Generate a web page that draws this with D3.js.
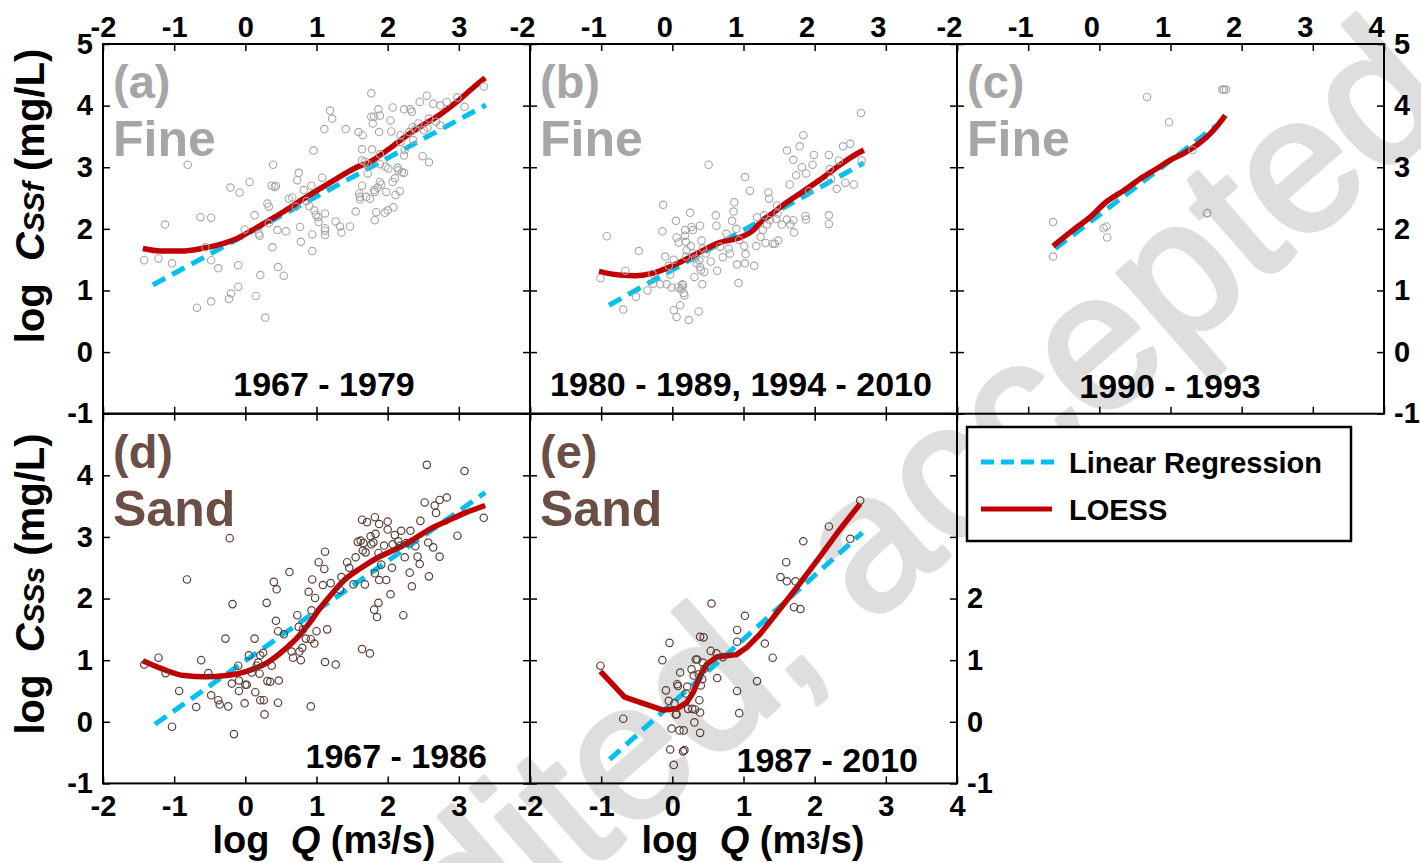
<!DOCTYPE html>
<html>
<head>
<meta charset="utf-8">
<script src="https://cdn.jsdelivr.net/npm/d3@7"></script>
<style>
  body { margin: 0; background: #fff; }
  text { font-family: "Liberation Sans", Arial, Helvetica, sans-serif; font-weight: bold; }
</style>
</head>
<body>
<svg id="chart" width="1421" height="863"></svg>
<script>
// ---- data (log Q, log C) ----
var xTicks = [-2, -1, 0, 1, 2, 3, 4];
var yTicks = [-1, 0, 1, 2, 3, 4, 5];

// (a) fine 1967-1979
var ptsA = [[-1.42,1.49],[-1.22,1.52],[-1.13,2.07],[-1.03,1.44],[-0.81,3.04],[-0.68,0.72],[-0.63,2.19],[-0.48,2.18],[-0.56,1.70],[-0.48,1.49],
  [-0.48,0.82],[-0.38,1.36],[-0.23,0.86],[-0.20,0.95],[-0.21,2.67],[-0.08,2.59],[-0.10,1.41],[-0.10,1.06],[-0.01,1.99],[0.06,2.76],
  [0.13,2.22],[0.15,0.91],[0.19,1.92],[0.20,1.89],[0.21,1.25],[0.28,0.56],[0.31,2.41],[0.33,2.36],[0.33,2.09],[0.38,1.70],
  [0.39,3.04],[0.37,2.70],[0.41,2.68],[0.43,2.70],[0.45,1.98],[0.46,1.38],[0.54,1.24],[0.57,1.96],[0.61,2.49],[0.66,2.51],
  [0.71,2.36],[0.73,2.79],[0.75,2.91],[0.77,2.03],[0.78,1.79],[0.82,2.63],[0.86,2.45],[0.90,2.37],[0.93,2.70],[0.94,1.91],
  [0.94,1.64],[0.96,3.27],[0.97,2.30],[0.99,2.23],[1.02,2.19],[1.03,2.11],[1.08,2.83],[1.11,3.62],[1.12,2.25],[1.12,2.01],
  [1.12,1.97],[1.12,1.90],[1.19,3.92],[1.22,3.79],[1.27,2.12],[1.33,2.04],[1.35,1.94],[1.41,3.62],[1.47,2.04],[1.55,2.28],
  [1.59,3.57],[1.60,2.57],[1.61,2.48],[1.61,2.52],[1.65,3.52],[1.64,3.29],[1.64,3.11],[1.64,2.70],[1.68,3.09],[1.70,2.52],
  [1.72,3.05],[1.72,2.90],[1.75,2.49],[1.77,4.20],[1.77,3.82],[1.78,3.29],[1.79,3.71],[1.81,3.82],[1.81,2.63],[1.82,2.14],
  [1.82,2.60],[1.84,2.27],[1.86,2.67],[1.87,3.94],[1.88,3.57],[1.89,3.84],[1.89,3.21],[1.89,2.76],[1.89,3.05],[1.91,2.72],
  [1.96,2.26],[1.97,3.01],[1.98,2.60],[2.00,2.30],[2.01,2.98],[2.04,3.76],[2.05,3.58],[2.07,3.97],[2.07,2.76],[2.08,2.35],
  [2.10,2.82],[2.11,2.55],[2.14,2.99],[2.15,2.95],[2.17,2.61],[2.18,3.52],[2.18,3.41],[2.20,2.92],[2.23,2.91],[2.23,3.94],
  [2.23,3.19],[2.24,3.28],[2.30,3.57],[2.32,3.94],[2.34,3.90],[2.35,3.65],[2.36,3.44],[2.39,3.62],[2.43,3.71],[2.45,4.06],
  [2.49,3.18],[2.51,3.60],[2.55,4.16],[2.56,3.64],[2.58,3.79],[2.58,3.08],[2.64,4.03],[2.68,3.74],[2.74,4.00],[2.74,3.68],
  [2.83,4.06],[2.98,4.13],[3.08,3.98],[3.35,4.31]];
var lrA = [[-1.30,1.09],[3.38,4.01]];
var loA = [[-1.44,1.68],[-1.19,1.64],[-0.90,1.64],[-0.62,1.68],[-0.38,1.74],[-0.14,1.83],[0.10,1.98],[0.34,2.14],[0.58,2.31],[0.82,2.49],
  [1.06,2.66],[1.29,2.82],[1.53,2.98],[1.77,3.10],[2.01,3.29],[2.25,3.50],[2.49,3.68],[2.73,3.85],[2.97,4.06],[3.20,4.29],[3.37,4.45]];

// (b) fine 1980-1989, 1994-2010
var ptsB = [[-1.01,1.20],[-0.92,1.88],[-0.69,0.69],[-0.66,1.32],[-0.51,0.90],[-0.47,1.64],[-0.35,1.00],[-0.28,1.27],[-0.27,1.11],[-0.17,1.10],
  [-0.14,1.96],[-0.13,2.39],[-0.10,1.55],[-0.08,1.10],[-0.05,1.40],[-0.03,1.26],[-0.01,1.05],[0.02,1.50],[0.02,0.68],[0.05,2.13],
  [0.06,1.86],[0.06,0.57],[0.08,1.05],[0.09,1.78],[0.11,0.76],[0.12,1.02],[0.14,1.10],[0.14,1.05],[0.15,1.09],[0.16,0.96],
  [0.17,0.92],[0.18,1.98],[0.18,1.89],[0.19,1.79],[0.19,1.55],[0.20,1.65],[0.23,0.52],[0.25,2.26],[0.26,1.72],[0.27,2.03],
  [0.29,1.60],[0.29,1.98],[0.31,1.22],[0.32,1.52],[0.34,1.44],[0.37,0.66],[0.38,1.49],[0.39,2.05],[0.39,1.38],[0.40,1.33],
  [0.41,1.81],[0.42,1.10],[0.43,1.68],[0.45,1.30],[0.47,1.60],[0.51,3.04],[0.54,1.47],[0.61,2.22],[0.62,2.05],[0.63,1.32],
  [0.67,1.71],[0.71,1.54],[0.76,1.92],[0.79,1.68],[0.81,1.60],[0.84,2.13],[0.86,2.28],[0.87,2.43],[0.90,2.00],[0.91,1.42],
  [0.93,1.12],[0.94,1.82],[1.01,1.72],[1.02,2.84],[1.02,1.44],[1.03,1.59],[1.09,2.62],[1.15,1.40],[1.18,1.72],[1.19,2.19],
  [1.24,1.87],[1.27,1.98],[1.29,2.22],[1.31,1.77],[1.33,2.07],[1.35,2.59],[1.36,2.49],[1.37,2.14],[1.41,1.76],[1.44,1.76],
  [1.46,2.16],[1.47,2.38],[1.48,2.25],[1.49,1.81],[1.54,2.07],[1.61,3.27],[1.61,2.15],[1.65,2.72],[1.66,2.07],[1.70,2.14],
  [1.70,3.12],[1.71,1.94],[1.74,2.87],[1.79,3.34],[1.82,3.00],[1.84,3.52],[1.87,2.21],[1.88,2.15],[1.88,2.90],[1.92,2.61],
  [1.97,3.04],[1.99,3.20],[2.20,3.20],[2.20,2.22],[2.20,2.08],[2.21,2.97],[2.23,2.81],[2.31,2.65],[2.34,3.11],[2.40,3.34],
  [2.43,2.75],[2.50,3.38],[2.55,2.72],[2.65,3.88],[2.66,3.11]];
var lrB = [[-0.89,0.76],[2.69,3.07]];
var loB = [[-1.03,1.31],[-0.74,1.25],[-0.51,1.24],[-0.27,1.28],[-0.04,1.38],[0.20,1.51],[0.43,1.65],[0.67,1.78],[0.90,1.84],[1.14,1.98],
  [1.25,2.12],[1.37,2.22],[1.61,2.43],[1.84,2.61],[2.08,2.80],[2.31,3.00],[2.55,3.19],[2.69,3.28]];

// (c) fine 1990-1993
var ptsC = [[-0.65,2.11],[-0.65,1.55],[0.06,2.01],[0.10,2.04],[0.11,1.86],[0.67,4.14],[0.98,3.73],[1.31,3.28],[1.51,2.25],[1.52,2.26],
  [1.73,4.26],[1.75,4.26],[1.78,4.26]];
var lrC = [[-0.62,1.68],[1.65,3.68]];
var loC = [[-0.65,1.72],[-0.37,1.98],[-0.13,2.19],[0.10,2.44],[0.34,2.62],[0.57,2.81],[0.81,2.98],[1.00,3.12],[1.18,3.22],[1.37,3.36],
  [1.51,3.49],[1.65,3.66],[1.77,3.84]];

// (d) sand 1967-1986
var ptsD = [[-1.42,0.93],[-1.22,1.04],[-1.12,0.79],[-1.03,-0.08],[-0.93,0.50],[-0.82,2.31],[-0.69,0.24],[-0.62,1.00],[-0.52,0.79],[-0.48,0.43],
  [-0.38,0.35],[-0.36,0.28],[-0.28,1.35],[-0.24,0.25],[-0.22,2.98],[-0.19,0.62],[-0.18,1.91],[-0.16,-0.20],[-0.10,0.91],[-0.09,0.67],
  [-0.09,0.50],[-0.01,0.30],[0.00,0.60],[0.02,0.60],[0.05,1.08],[0.09,0.80],[0.13,1.35],[0.14,0.48],[0.16,0.91],[0.18,0.96],
  [0.20,0.78],[0.21,0.35],[0.21,1.08],[0.25,1.12],[0.26,0.35],[0.27,0.12],[0.30,1.93],[0.31,0.66],[0.35,0.65],[0.37,0.91],
  [0.40,2.27],[0.43,1.64],[0.44,2.15],[0.46,1.47],[0.46,0.31],[0.47,0.67],[0.54,1.42],[0.62,2.43],[0.65,1.14],[0.67,1.04],
  [0.73,1.73],[0.75,1.54],[0.76,1.14],[0.78,1.00],[0.80,1.20],[0.81,1.50],[0.85,1.35],[0.89,2.11],[0.92,1.34],[0.92,0.25],
  [0.93,1.81],[0.94,2.31],[0.97,1.27],[0.98,2.01],[1.00,1.47],[1.03,2.59],[1.09,2.22],[1.11,2.48],[1.12,2.76],[1.12,0.97],
  [1.15,1.50],[1.20,2.25],[1.27,0.93],[1.33,2.14],[1.35,2.35],[1.43,2.59],[1.46,2.50],[1.52,2.23],[1.55,2.67],[1.58,2.92],
  [1.62,2.94],[1.64,1.18],[1.64,3.28],[1.65,2.78],[1.66,2.90],[1.68,2.23],[1.69,2.75],[1.71,3.24],[1.75,1.11],[1.76,3.01],
  [1.77,2.88],[1.80,2.91],[1.81,1.82],[1.82,3.32],[1.82,2.41],[1.83,3.05],[1.85,1.70],[1.87,1.93],[1.87,2.74],[1.88,3.21],
  [1.88,2.30],[1.91,2.55],[1.95,2.86],[1.98,2.30],[2.00,3.25],[2.00,3.12],[2.04,2.07],[2.06,2.50],[2.07,2.88],[2.10,3.03],
  [2.15,2.93],[2.18,2.86],[2.19,3.10],[2.22,1.73],[2.24,2.67],[2.26,2.90],[2.31,2.42],[2.32,3.10],[2.34,2.20],[2.39,2.85],
  [2.42,2.68],[2.45,2.56],[2.46,3.26],[2.52,3.56],[2.55,4.17],[2.57,2.91],[2.58,2.36],[2.64,2.83],[2.66,3.51],[2.68,3.39],
  [2.73,3.60],[2.73,2.68],[2.83,3.64],[2.98,3.02],[3.08,4.07],[3.35,3.31]];
var lrD = [[-1.27,-0.04],[3.37,3.72]];
var loD = [[-1.44,0.99],[-1.15,0.85],[-0.86,0.75],[-0.56,0.73],[-0.27,0.75],[0.02,0.82],[0.31,0.96],[0.55,1.17],[0.75,1.39],[0.90,1.60],
  [1.04,1.83],[1.19,2.04],[1.38,2.29],[1.63,2.50],[1.87,2.67],[2.11,2.80],[2.36,2.96],[2.60,3.13],[2.84,3.26],[3.09,3.39],[3.37,3.51]];

// (e) sand 1987-2010
var ptsE = [[-1.01,0.91],[-0.69,0.05],[-0.14,1.00],[-0.09,0.51],[-0.05,0.34],[-0.04,1.28],[-0.01,-0.11],[-0.03,-0.45],[0.02,-0.70],[0.03,0.30],
  [0.05,0.12],[0.06,0.12],[0.07,0.61],[0.08,0.58],[0.10,-0.14],[0.11,0.80],[0.16,-0.14],[0.15,-0.48],[0.17,-0.46],[0.19,0.46],
  [0.21,0.57],[0.22,0.21],[0.27,0.85],[0.28,0.21],[0.30,0.75],[0.31,-0.01],[0.32,0.20],[0.33,1.01],[0.35,1.01],[0.37,0.77],
  [0.38,0.35],[0.39,0.15],[0.39,-0.18],[0.39,1.38],[0.40,0.59],[0.42,0.69],[0.43,0.96],[0.44,1.37],[0.45,0.86],[0.54,1.15],
  [0.55,1.92],[0.62,1.11],[0.63,0.71],[0.71,1.05],[0.91,1.49],[0.91,1.30],[0.91,0.50],[0.94,0.14],[1.02,1.72],[1.19,0.66],
  [1.30,1.27],[1.41,1.04],[1.52,2.35],[1.60,2.59],[1.61,2.28],[1.71,1.86],[1.73,2.28],[1.80,1.83],[1.84,2.93],[2.20,3.17],
  [2.50,2.97],[2.64,3.59]];
var lrE = [[-0.88,-0.61],[2.67,3.07]];
var loE = [[-1.01,0.82],[-0.67,0.40],[-0.13,0.19],[0.06,0.21],[0.20,0.31],[0.29,0.47],[0.39,0.74],[0.48,0.93],[0.62,1.05],[0.90,1.09],
  [1.04,1.20],[1.23,1.42],[1.47,1.77],[1.75,2.18],[2.08,2.69],[2.36,3.13],[2.64,3.54]];

var tags = ["(a)", "(b)", "(c)", "(d)", "(e)"];
var kinds = ["Fine", "Fine", "Fine", "Sand", "Sand"];
var periods = ["1967 - 1979", "1980 - 1989, 1994 - 2010", "1990 - 1993", "1967 - 1986", "1987 - 2010"];
var legendLabels = ["Linear Regression", "LOESS"];

// ---- layout ----
var svg = d3.select("#chart");
var pw = 427, ph = 369.7;
var colX = [103, 530, 957], rowY = [44, 413.7];
var red = "#c00000", blue = "#00c0f0";
var fineCol = "#a6a6a6", sandText = "#6b4f46", sandPt = "#5a3f37";
var fmt = function(d) { return String(d); };  // plain hyphen minus, as in the figure
var tickFont = 29;

var panels = [
  {pts: ptsA, lr: lrA, lo: loA, col: 0, row: 0, top: [-2,-1,0,1,2,3], topShift: 0, left: yTicks, px: 324, anchor: "middle", py: 396},
  {pts: ptsB, lr: lrB, lo: loB, col: 1, row: 0, top: [-2,-1,0,1,2,3], topShift: -8, px: 741, anchor: "middle", py: 396},
  {pts: ptsC, lr: lrC, lo: loC, col: 2, row: 0, top: xTicks, topShift: -8, right: yTicks, px: 1170, anchor: "middle", py: 398},
  {pts: ptsD, lr: lrD, lo: loD, col: 0, row: 1, bottom: [-2,-1,0,1,2,3], left: [-1,0,1,2,3,4], px: 487, anchor: "end", py: 768},
  {pts: ptsE, lr: lrE, lo: loE, col: 1, row: 1, bottom: xTicks, right: [-1,0,1,2], px: 918, anchor: "end", py: 772, linear: true}
];

// watermark (behind everything)
var wm = svg.append("g")
  .attr("transform", "translate(788,697) rotate(-41.2)")
  .attr("fill", "#dedede")
  .attr("stroke", "#dedede")
  .attr("stroke-width", 5)
  .attr("stroke-linejoin", "round");
wm.append("text").attr("text-anchor", "end").style("font-weight", "normal").style("font-size", "193px").text("edited");
wm.append("text").attr("text-anchor", "start").style("font-weight", "normal").style("font-size", "193px").text(", accepted");

function styleLabels(sel, size) {
  sel.select(".domain").remove();
  sel.selectAll("text")
    .attr("fill", "#000")
    .style("font-size", size + "px")
    .style("font-family", "'Liberation Sans', Arial, sans-serif")
    .style("font-weight", "bold");
}

panels.forEach(function(p, i) {
  var x0 = colX[p.col], y0 = rowY[p.row];
  var x = d3.scaleLinear().domain([-2, 4]).range([x0, x0 + pw]);
  var y = d3.scaleLinear().domain([-1, 5]).range([y0 + ph, y0]);
  var g = svg.append("g");
  var isSand = p.row === 1;

  var line = d3.line().x(function(d) { return x(d[0]); }).y(function(d) { return y(d[1]); });

  // linear regression
  g.append("path")
    .datum(p.lr)
    .attr("d", line)
    .attr("fill", "none")
    .attr("stroke", blue)
    .attr("stroke-width", 5)
    .attr("stroke-dasharray", "14,8");

  // loess
  g.append("path")
    .datum(p.lo)
    .attr("d", line.curve(p.linear ? d3.curveLinear : d3.curveMonotoneX))
    .attr("fill", "none")
    .attr("stroke", red)
    .attr("stroke-width", 5.5)
    .attr("stroke-linejoin", "round");

  // observations
  g.selectAll("circle.obs")
    .data(p.pts)
    .enter()
    .append("circle")
    .attr("class", "obs")
    .attr("cx", function(d) { return x(d[0]); })
    .attr("cy", function(d) { return y(d[1]); })
    .attr("r", 3.7)
    .attr("fill", "none")
    .attr("stroke", isSand ? sandPt : fineCol)
    .attr("stroke-width", isSand ? 1.2 : 1.1);

  // frame
  g.append("rect")
    .attr("x", x0).attr("y", y0).attr("width", pw).attr("height", ph)
    .attr("fill", "none").attr("stroke", "#000").attr("stroke-width", 2);

  // inward ticks on all four sides
  var tk = 7;
  [[d3.axisTop(x).tickValues(xTicks), "translate(0," + y0 + ")"],
   [d3.axisBottom(x).tickValues(xTicks), "translate(0," + (y0 + ph) + ")"],
   [d3.axisLeft(y).tickValues(yTicks), "translate(" + x0 + ",0)"],
   [d3.axisRight(y).tickValues(yTicks), "translate(" + (x0 + pw) + ",0)"]].forEach(function(a) {
    var ax = g.append("g").attr("transform", a[1])
      .call(a[0].tickSize(-tk).tickFormat(""));
    ax.select(".domain").remove();
    ax.selectAll(".tick line").attr("stroke", "#000").attr("stroke-width", 1.5);
  });

  // tick labels
  if (p.top) {
    var at = g.append("g").attr("transform", "translate(" + p.topShift + "," + y0 + ")")
      .call(d3.axisTop(x).tickValues(p.top).tickFormat(fmt).tickSize(0).tickPadding(7));
    styleLabels(at, tickFont);
  }
  if (p.bottom) {
    var ab = g.append("g").attr("transform", "translate(0," + (y0 + ph) + ")")
      .call(d3.axisBottom(x).tickValues(p.bottom).tickFormat(fmt).tickSize(0).tickPadding(12));
    styleLabels(ab, tickFont);
  }
  if (p.left) {
    var al = g.append("g").attr("transform", "translate(" + x0 + ",0)")
      .call(d3.axisLeft(y).tickValues(p.left).tickFormat(fmt).tickSize(0).tickPadding(10));
    styleLabels(al, tickFont);
  }
  if (p.right) {
    var ar = g.append("g").attr("transform", "translate(" + (x0 + pw) + ",0)")
      .call(d3.axisRight(y).tickValues(p.right).tickFormat(fmt).tickSize(0).tickPadding(10));
    styleLabels(ar, tickFont);
  }

  // panel tag and sediment class
  var tc = isSand ? sandText : fineCol;
  g.append("text").attr("x", x0 + 10).attr("y", y0 + 54).attr("fill", tc).style("font-size", "47px").text(tags[i]);
  g.append("text").attr("x", x0 + 10).attr("y", y0 + 112).attr("fill", tc).style("font-size", "50px").text(kinds[i]);

  // period
  g.append("text").attr("x", p.px).attr("y", p.py).attr("text-anchor", p.anchor)
    .attr("fill", "#000").style("font-size", "34px").text(periods[i]);
});

// axis titles
function yTitle(cx, cy, sub) {
  var t = svg.append("text")
    .attr("transform", "translate(" + cx + "," + cy + ") rotate(-90)")
    .attr("text-anchor", "middle")
    .style("font-size", "40px");
  t.append("tspan").text("log\u00a0 ");
  t.append("tspan").style("font-style", "italic").text("C");
  t.append("tspan").style("font-style", "italic").style("font-size", "30px").text(sub);
  t.append("tspan").text(" (mg/L)");
}
yTitle(44, 196, "SSf");
yTitle(44, 584, "SSs");

function xTitle(cx, cy) {
  var t = svg.append("text")
    .attr("x", cx).attr("y", cy)
    .attr("text-anchor", "middle")
    .style("font-size", "38px");
  t.append("tspan").text("log\u00a0 ");
  t.append("tspan").style("font-style", "italic").text("Q");
  t.append("tspan").text(" (m");
  t.append("tspan").attr("dy", -4).style("font-size", "25px").text("3");
  t.append("tspan").attr("dy", 4).text("/s)");
}
xTitle(324, 853);
xTitle(753, 853);

// legend
var lg = svg.append("g");
lg.append("rect")
  .attr("x", 967).attr("y", 427).attr("width", 384).attr("height", 114)
  .attr("fill", "#fff").attr("stroke", "#000").attr("stroke-width", 2.5);
var legendStyle = [{c: blue, dash: "13,7", len: 75}, {c: red, dash: null, len: 71}];
var li = lg.selectAll("g.item")
  .data(legendLabels)
  .enter()
  .append("g")
  .attr("transform", function(d, i) { return "translate(981," + (462 + i * 47) + ")"; });
li.append("line")
  .attr("x1", 0).attr("x2", function(d, i) { return legendStyle[i].len; })
  .attr("y1", 0).attr("y2", 0)
  .attr("stroke", function(d, i) { return legendStyle[i].c; })
  .attr("stroke-width", 5)
  .attr("stroke-dasharray", function(d, i) { return legendStyle[i].dash; });
li.append("text")
  .attr("x", 88).attr("y", 11)
  .attr("fill", "#000")
  .style("font-size", "29px")
  .text(function(d) { return d; });
</script>
</body>
</html>
